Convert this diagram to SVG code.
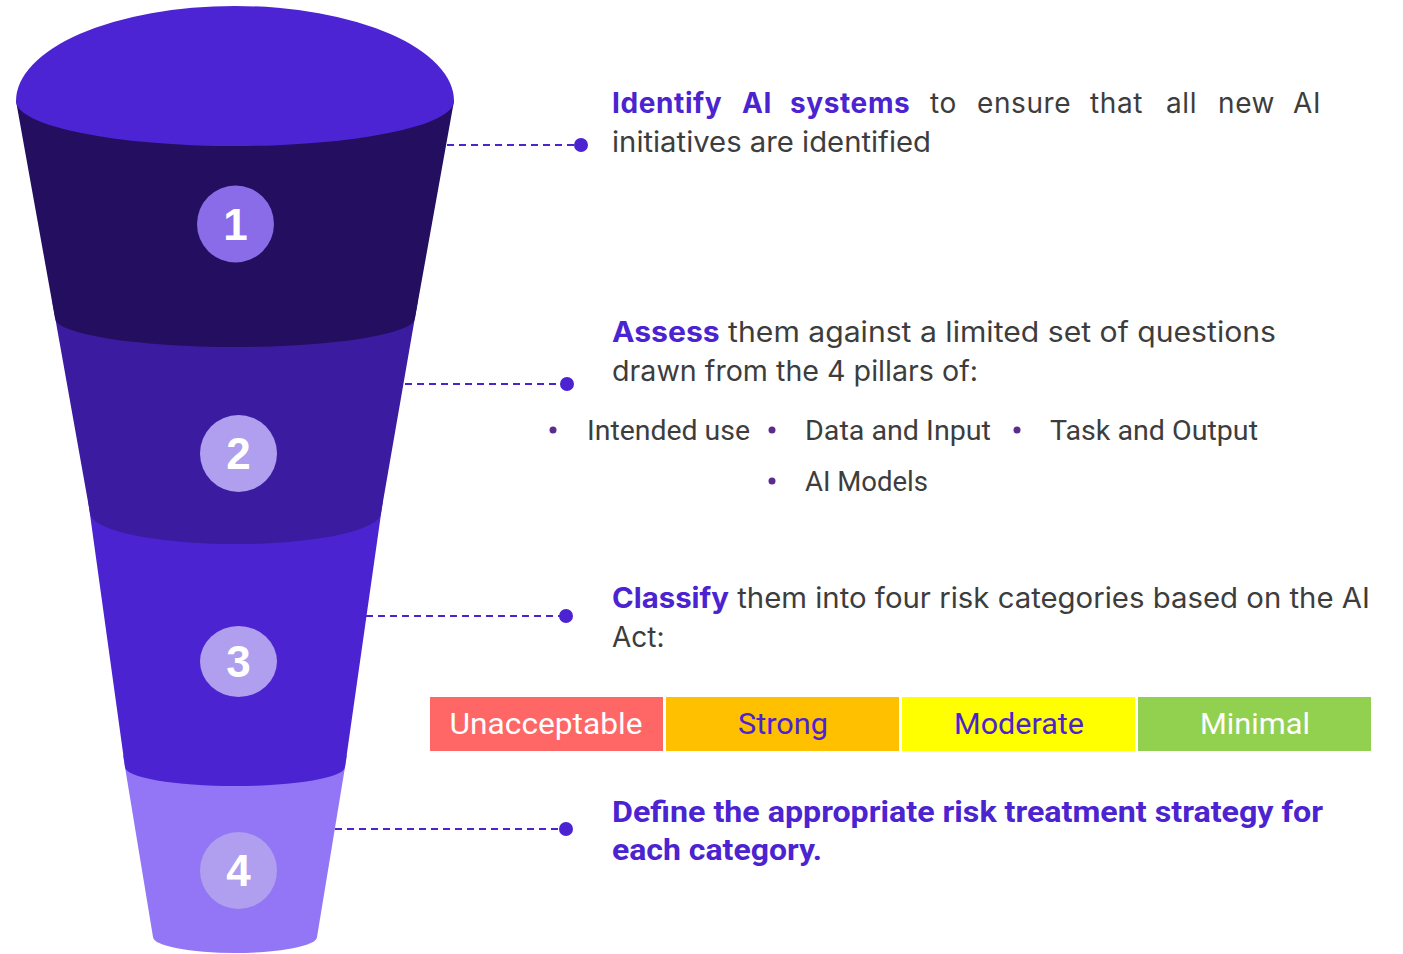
<svg xmlns="http://www.w3.org/2000/svg" width="1403" height="954" viewBox="0 0 1403 954">
<style>
.num{font-family:"Liberation Sans",Arial,sans-serif;font-weight:bold;font-size:44px;fill:#fff;text-anchor:middle}
.body{font-family:Inter,"Noto Sans",sans-serif;font-size:28px;fill:#3d3d3d}
.hl{font-weight:bold;fill:#4B23D1}
.cond{font-family:Roboto,"Noto Sans",sans-serif;font-size:27px;fill:#3d3d3d}
.cat{font-family:Roboto,"Noto Sans",sans-serif;font-size:29px;text-anchor:middle}
.def{font-family:Roboto,"Noto Sans",sans-serif;font-weight:bold;font-size:29px;fill:#4B23D1}
.conn{stroke:#4B23D1;stroke-width:2;stroke-dasharray:7 5;fill:none}
.dot{fill:#4B23D1}
.bul{fill:#5B2C8F}
</style>
<rect width="1403" height="954" fill="#fff"/>
<g id="funnel">
<g id="seg4"><path d="M123,755 L347,755 L317,937 A82,16 0 0 1 153,937 Z" fill="#9376F5"/><circle cx="238.5" cy="870.5" r="38.5" fill="#B09EEF"/><text class="num" x="238.5" y="886">4</text></g>
<g id="seg3"><path d="M88,500 L383,500 L345,767 A110,19 0 0 1 125,767 Z" fill="#4B23D1"/><ellipse cx="238.5" cy="661.5" rx="38.5" ry="35.5" fill="#B09EEF"/><text class="num" x="238.5" y="677">3</text></g>
<g id="seg2"><path d="M52,300 L418,300 L381,513 A145.5,31 0 0 1 90,513 Z" fill="#3B1BA0"/><circle cx="238.5" cy="453.5" r="38.5" fill="#B09EEF"/><text class="num" x="238.5" y="469">2</text></g>
<g id="seg1"><path d="M16,101 L454,101 L415,318 A180,29 0 0 1 55,318 Z" fill="#240E5F"/><circle cx="235.5" cy="224" r="38.5" fill="#8A6BE8"/><text class="num" x="235.5" y="240">1</text></g>
<g id="top"><path d="M16,101 A219,95 0 0 1 454,101 A219,45 0 0 1 16,101 Z" fill="#4D24D3"/></g>
</g>
<g id="connectors">
<line class="conn" x1="447" y1="145" x2="575" y2="145"/><circle class="dot" cx="581" cy="145" r="7"/>
<line class="conn" x1="405" y1="384" x2="561" y2="384"/><circle class="dot" cx="567" cy="384" r="7"/>
<line class="conn" x1="366" y1="616" x2="560" y2="616"/><circle class="dot" cx="566" cy="616" r="7"/>
<line class="conn" x1="335" y1="829" x2="560" y2="829"/><circle class="dot" cx="566" cy="829" r="7"/>
</g>
<g id="step1">
<text class="body" y="113" style="letter-spacing:0.6px"><tspan class="hl" x="612">Identify</tspan><tspan class="hl" x="742">AI</tspan><tspan class="hl" x="790">systems</tspan><tspan x="930">to</tspan><tspan x="977">ensure</tspan><tspan x="1090">that</tspan><tspan x="1166">all</tspan><tspan x="1218">new</tspan><tspan x="1293">AI</tspan></text>
<text class="body" x="612" y="152" textLength="319" lengthAdjust="spacingAndGlyphs">initiatives are identified</text>
</g>
<g id="step2">
<text class="body" x="612" y="342" textLength="664" lengthAdjust="spacingAndGlyphs"><tspan class="hl">Assess</tspan> them against a limited set of questions</text>
<text class="body" x="612" y="381" textLength="366" lengthAdjust="spacingAndGlyphs">drawn from the 4 pillars of:</text>
<circle class="bul" cx="553" cy="430" r="3.5"/><circle class="bul" cx="772" cy="430" r="3.5"/><circle class="bul" cx="1017" cy="430" r="3.5"/><circle class="bul" cx="772" cy="481" r="3.5"/>
<text class="cond" x="587" y="440" textLength="163" lengthAdjust="spacingAndGlyphs">Intended use</text>
<text class="cond" x="805" y="440" textLength="186" lengthAdjust="spacingAndGlyphs">Data and Input</text>
<text class="cond" x="1050" y="440" textLength="208" lengthAdjust="spacingAndGlyphs">Task and Output</text>
<text class="cond" x="805" y="491" textLength="123" lengthAdjust="spacingAndGlyphs">AI Models</text>
</g>
<g id="step3">
<text class="body" x="612" y="608" textLength="758" lengthAdjust="spacingAndGlyphs"><tspan class="hl">Classify</tspan> them into four risk categories based on the AI</text>
<text class="body" x="612" y="647">Act:</text>
<g id="categories">
<rect x="430" y="697" width="233" height="54" fill="#FF6666"/>
<rect x="666" y="697" width="233" height="54" fill="#FFC000"/>
<rect x="902" y="697" width="233" height="54" fill="#FFFF00"/>
<rect x="1138" y="697" width="233" height="54" fill="#92D050"/>
<text class="cat" x="546" y="734" fill="#fff" textLength="193" lengthAdjust="spacingAndGlyphs">Unacceptable</text>
<text class="cat" x="783" y="734" fill="#4B23D1" textLength="90" lengthAdjust="spacingAndGlyphs">Strong</text>
<text class="cat" x="1019" y="734" fill="#4B23D1" textLength="130" lengthAdjust="spacingAndGlyphs">Moderate</text>
<text class="cat" x="1255" y="734" fill="#fff" textLength="110" lengthAdjust="spacingAndGlyphs">Minimal</text>
</g>
</g>
<g id="step4">
<text class="def" x="612" y="822" textLength="711" lengthAdjust="spacingAndGlyphs">Define the appropriate risk treatment strategy for</text>
<text class="def" x="612" y="860" textLength="210" lengthAdjust="spacingAndGlyphs">each category.</text>
</g>
</svg>
